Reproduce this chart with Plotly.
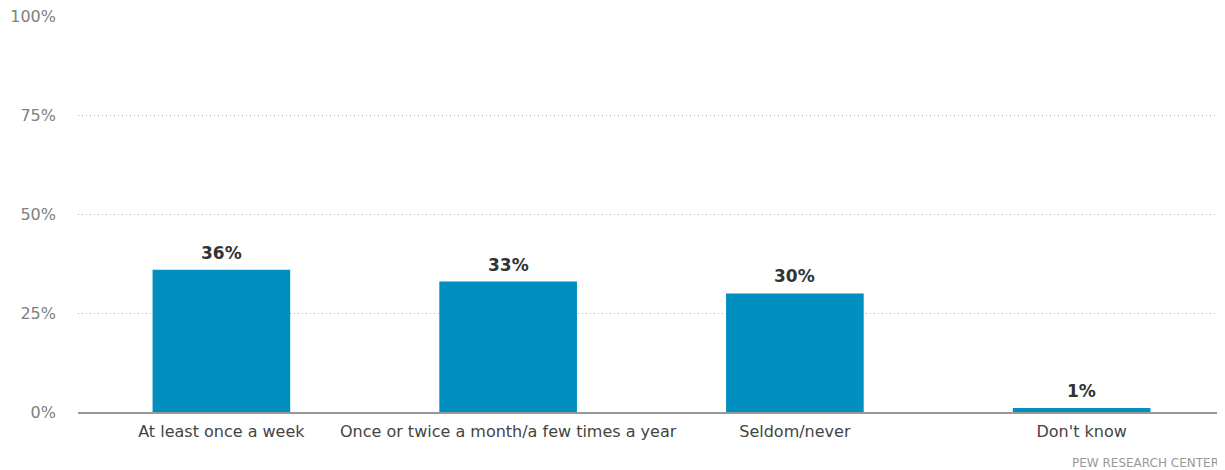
import plotly.graph_objects as go

categories = ["At least once a week", "Once or twice a month/a few times a year", "Seldom/never", "Don't know"]
values = [36, 33, 30, 1]
value_labels = ["36%", "33%", "30%", "1%"]
tick_vals = [0, 25, 50, 75, 100]
tick_text = ["0%", "25%", "50%", "75%", "100%"]

FONT = "DejaVu Sans"

fig = go.Figure(go.Bar(
    x=categories, y=values,
    marker=dict(color="#008fbf", line=dict(width=0)),
    hoverinfo="skip",
))

annotations = [
    dict(x=c, y=v, text=f"<b>{t}</b>", xref="x", yref="y",
         xanchor="center", yanchor="bottom", yshift=5, showarrow=False,
         font=dict(family=FONT, size=17, color="#333333"))
    for c, v, t in zip(categories, values, value_labels)
]
annotations.append(dict(
    text="PEW RESEARCH CENTER", xref="paper", yref="paper",
    x=1.0, y=0, xanchor="right", yanchor="middle", yshift=-51, xshift=-4,
    showarrow=False, font=dict(family=FONT, size=12, color="#999999"),
))

fig.update_layout(
    width=1217, height=462,
    margin=dict(l=70, r=0, t=8, b=58),
    paper_bgcolor="white", plot_bgcolor="white",
    bargap=0.52,
    showlegend=False,
    font=dict(family=FONT),
    xaxis=dict(
        showline=True, linecolor="#999999", linewidth=1.5,
        showgrid=False, ticks="",
        tickfont=dict(family=FONT, size=16, color="#444444"),
        ticklabelstandoff=4,
    ),
    yaxis=dict(
        range=[0, 100.2], tickvals=tick_vals, ticktext=tick_text,
        showgrid=True, gridcolor="#b0b0b0", griddash="1px,3px", gridwidth=1,
        zeroline=False, showline=False, ticks="",
        tickfont=dict(family=FONT, size=16, color="#808080"),
        ticklabelstandoff=21, ticklabeloverflow="allow",
    ),
    annotations=annotations,
)

fig.write_html("out.html")
